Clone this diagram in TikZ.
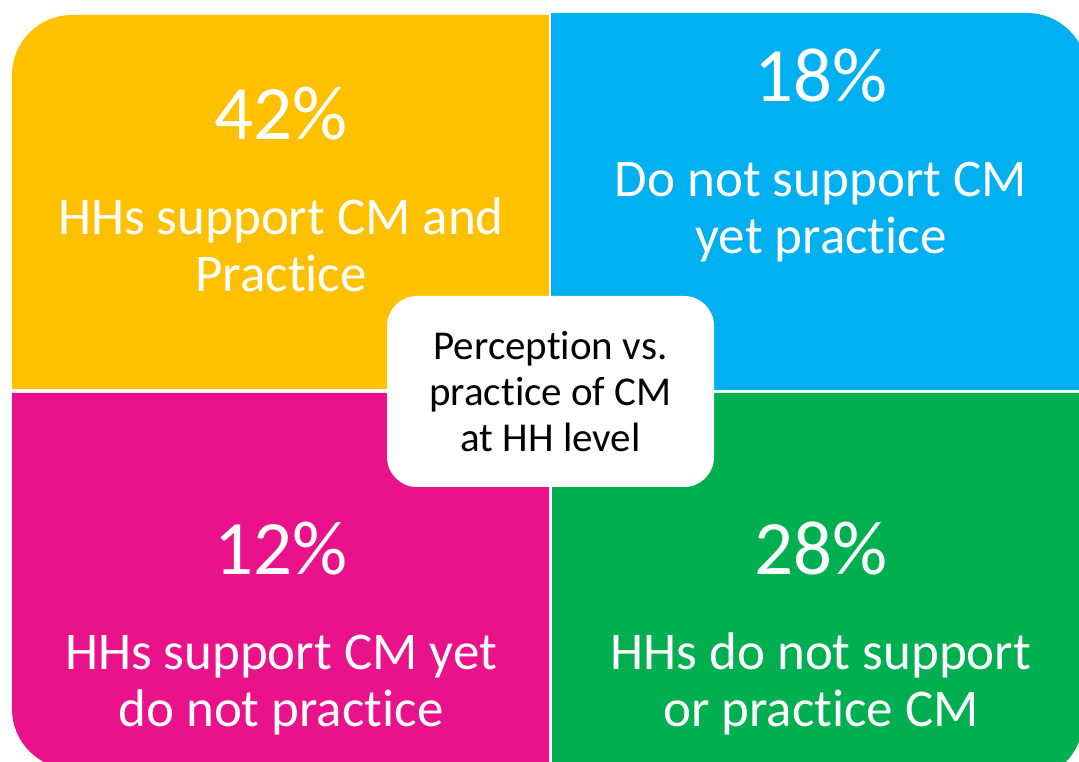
\documentclass[tikz,border=0pt]{standalone}
\usepackage{fontspec}
\setmainfont{Carlito}[Ligatures={NoCommon,NoRequired,NoContextual}]
\usepackage{tikz}
\usetikzlibrary{positioning}
\definecolor{quadyellow}{HTML}{FFC000}
\definecolor{quadblue}{HTML}{00B0F0}
\definecolor{quadpink}{HTML}{EA128A}
\definecolor{quadgreen}{HTML}{00B050}
\tikzstyle{percent} = [text=white, font=\fontsize{77}{80}\selectfont, anchor=base, inner sep=0pt]
\tikzstyle{quadtext} = [text=white, align=center, font=\fontsize{53}{57}\selectfont, inner sep=0pt]
\tikzstyle{centrebox} = [fill=white, rounded corners=30pt, minimum width=327pt, minimum height=191pt, align=center, font=\fontsize{41}{46}\selectfont, inner sep=0pt]

\begin{document}
\begin{tikzpicture}[x=1pt, y=1pt]
			\useasboundingbox (0,0) rectangle (1079,762);
			\clip (0,0) rectangle (1079,762);

			%--Quadrants--%
			\fill[quadyellow] (549,373) -- (12,373) -- (12,687) arc[start angle=180, end angle=90, radius=60] -- (549,747) -- cycle;
			\fill[quadblue] (551,372) -- (551,749) -- (1027,749) arc[start angle=90, end angle=0, radius=60] -- (1087,372) -- cycle;
			\fill[quadpink] (549,369) -- (12,369) -- (12,53) arc[start angle=180, end angle=270, radius=60] -- (549,-7) -- cycle;
			\fill[quadgreen] (552,369) -- (1083,369) -- (1083,42) arc[start angle=0, end angle=-90, radius=60] -- (552,-18) -- cycle;

			%--Percentages--%
			\node(pct1)[percent] at (281,622){42\%};
			\node(pct2)[percent] at (821,660){18\%};
			\node(pct3)[percent] at (281,187){12\%};
			\node(pct4)[percent] at (821,187){28\%};

			%--Descriptions--%
			\node(txt1)[quadtext, below=152pt of pct1.base, anchor=base]{HHs support CM and\\Practice};
			\node(txt2)[quadtext, below=152pt of pct2.base, anchor=base]{Do not support CM\\yet practice};
			\node(txt3)[quadtext, below=152pt of pct3.base, anchor=base]{HHs support CM yet\\do not practice};
			\node(txt4)[quadtext, below=152pt of pct4.base, anchor=base]{HHs do not support\\or practice CM};

			%--Centre Box--%
			\node(centre)[centrebox] at (550.5,370.5){Perception vs.\\practice of CM\\at HH level};
		\end{tikzpicture}
\end{document}
